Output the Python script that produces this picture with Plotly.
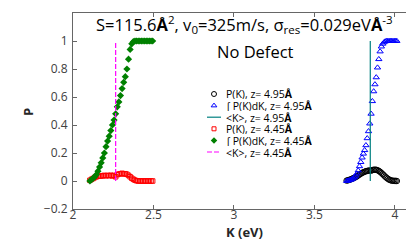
import plotly.graph_objects as go

# ---------------- data ----------------
# z = 4.45 Å (left group)
K_445 = [2.105, 2.115, 2.125, 2.135, 2.145, 2.155, 2.165, 2.175, 2.185, 2.195,
         2.205, 2.215, 2.225, 2.235, 2.245, 2.255, 2.265, 2.275, 2.285, 2.295,
         2.305, 2.315, 2.325, 2.335, 2.345, 2.355, 2.365, 2.375, 2.385, 2.395,
         2.405, 2.415, 2.425, 2.435, 2.445, 2.455, 2.465, 2.475, 2.485, 2.495]
P_445 = [0.005, 0.012, 0.018, 0.025, 0.030, 0.034, 0.036, 0.035, 0.038, 0.040,
         0.037, 0.040, 0.038, 0.041, 0.036, 0.040, 0.030, 0.045, 0.050, 0.052,
         0.055, 0.050, 0.052, 0.048, 0.040, 0.030, 0.020, 0.012, 0.006, 0.002,
         0.0, 0.0, 0.0, 0.0, 0.0, 0.0, 0.0, 0.0, 0.0, 0.0]
C_445 = [0.0, 0.01, 0.02, 0.03, 0.045, 0.07, 0.10, 0.13, 0.165, 0.20,
         0.245, 0.285, 0.32, 0.36, 0.40, 0.435, 0.48, 0.53, 0.565, 0.61,
         0.66, 0.705, 0.745, 0.80, 0.87, 0.94, 0.98, 0.995, 1.0, 1.0,
         1.0, 1.0, 1.0, 1.0, 1.0, 1.0, 1.0, 1.0, 1.0, 1.0]
meanK_445 = 2.265

# z = 4.95 Å (right group)
K_495 = [3.700, 3.708, 3.716, 3.724, 3.732, 3.740, 3.748, 3.756, 3.764, 3.772,
         3.780, 3.788, 3.796, 3.804, 3.812, 3.820, 3.828, 3.836, 3.844, 3.852,
         3.860, 3.868, 3.876, 3.884, 3.892, 3.900, 3.908, 3.916, 3.924, 3.932,
         3.940, 3.948, 3.956, 3.964, 3.972, 3.980, 3.988, 3.996, 4.004, 4.012]
P_495 = [0.003, 0.005, 0.008, 0.011, 0.015, 0.019, 0.023, 0.028, 0.033, 0.040,
         0.046, 0.052, 0.058, 0.062, 0.066, 0.070, 0.072, 0.074, 0.075, 0.074,
         0.078, 0.080, 0.081, 0.080, 0.077, 0.072, 0.066, 0.058, 0.049, 0.040,
         0.031, 0.023, 0.016, 0.010, 0.006, 0.003, 0.002, 0.001, 0.001, 0.000]
C_495 = [0.0, 0.002, 0.005, 0.008, 0.012, 0.018, 0.026, 0.037, 0.053, 0.075,
         0.105, 0.135, 0.167, 0.195, 0.22, 0.255, 0.305, 0.355, 0.41, 0.48,
         0.57, 0.64, 0.69, 0.74, 0.81, 0.87, 0.925, 0.96, 0.98, 0.99,
         0.997, 1.0, 1.0, 1.0, 1.0, 1.0, 1.0, 1.0, 1.0, 1.0]
meanK_495 = 3.847

mean_span = [0, 1]

legend_labels = [
    "P(K), z= 4.95<b>Å</b>",
    "∫ P(K)dK, z= 4.95<b>Å</b>",
    "&lt;K&gt;, z= 4.95<b>Å</b>",
    "P(K), z= 4.45<b>Å</b>",
    "∫ P(K)dK, z= 4.45<b>Å</b>",
    "&lt;K&gt;, z= 4.45<b>Å</b>",
]

x_ticks = [2, 2.5, 3, 3.5, 4]
x_ticklabels = ["2", "2.5", "3", "3.5", "4"]
y_ticks = [-0.2, 0, 0.2, 0.4, 0.6, 0.8, 1.0, 1.2]
y_ticklabels = ["−0.2", "0", "0.2", "0.4", "0.6", "0.8", "1", "1.2"]

# ---------------- styles ----------------
FONT = "Open Sans"
BLACK = "#000000"
BLUE = "#0000ff"
TEAL = "#008080"
RED = "#ff0000"
GREEN = "#008000"
MAGENTA = "#ff00ff"
AXC = "#666666"

W, H = 414, 242
L, R, T, B = 65, 11, 5, 41
PW, PH = W - L - R, H - T - B


def px2paper(px, py):
    return (px - L) / PW, (H - B - py) / PH


fig = go.Figure()

fig.add_trace(go.Scatter(x=K_495, y=P_495, mode="markers",
                         marker=dict(symbol="circle-open", size=5.5, color=BLACK, line=dict(width=1)),
                         showlegend=False))
fig.add_trace(go.Scatter(x=K_495, y=C_495, mode="markers",
                         marker=dict(symbol="triangle-up-open", size=5.5, color=BLUE, line=dict(width=1)),
                         showlegend=False))
fig.add_trace(go.Scatter(x=[meanK_495, meanK_495], y=mean_span, mode="lines",
                         line=dict(color=TEAL, width=1.2), showlegend=False))
fig.add_trace(go.Scatter(x=K_445, y=P_445, mode="markers",
                         marker=dict(symbol="square-open", size=4.5, color=RED, line=dict(width=1)),
                         showlegend=False))
fig.add_trace(go.Scatter(x=K_445, y=C_445, mode="markers",
                         marker=dict(symbol="diamond", size=5.5, color=GREEN),
                         showlegend=False))
fig.add_trace(go.Scatter(x=[meanK_445, meanK_445], y=mean_span, mode="lines",
                         line=dict(color=MAGENTA, width=1.2, dash="5px,2px"), showlegend=False))

# ---------------- manual compact legend ----------------
row_py = [86, 97.6, 109.2, 120.8, 132.4, 144]
key_px = 206
text_px = 216
key_styles = [
    ("marker", dict(symbol="circle-open", size=5, color=BLACK, line=dict(width=1))),
    ("marker", dict(symbol="triangle-up-open", size=5, color=BLUE, line=dict(width=1))),
    ("line", dict(color=TEAL, width=1.2)),
    ("marker", dict(symbol="square-open", size=4, color=RED, line=dict(width=1))),
    ("marker", dict(symbol="diamond", size=5, color=GREEN)),
    ("line", dict(color=MAGENTA, width=1.2, dash="5px,2px")),
]
for lab, py, (kind, st) in zip(legend_labels, row_py, key_styles):
    xk, yk = px2paper(key_px, py)
    if kind == "marker":
        fig.add_trace(go.Scatter(x=[xk], y=[yk], mode="markers", marker=st,
                                 xaxis="x2", yaxis="y2", showlegend=False, hoverinfo="skip"))
    else:
        x0, _ = px2paper(key_px - 7, py)
        x1, _ = px2paper(key_px + 7, py)
        fig.add_shape(type="line", xref="paper", yref="paper", x0=x0, x1=x1, y0=yk, y1=yk,
                      line=st)
    xt, yt = px2paper(text_px, py)
    fig.add_annotation(text=lab, xref="paper", yref="paper", x=xt, y=yt,
                       xanchor="left", yanchor="middle", showarrow=False, height=11,
                       font=dict(family=FONT, size=10.5, color="#000000"))

# title and label inside the axes
tx, ty = px2paper(236, 17)
fig.add_annotation(text="S=115.6<b>Å</b><sup>2</sup>, v<sub>0</sub>=325m/s, σ<sub>res</sub>=0.029eV<b>Å</b><sup>-3</sup>",
                   xref="paper", yref="paper", x=tx, y=ty, xanchor="center", yanchor="middle",
                   showarrow=False, font=dict(family=FONT, size=16.5, color="#000000"))
nx, ny = px2paper(247, 43)
fig.add_annotation(text="No Defect", xref="paper", yref="paper", x=nx, y=ny,
                   xanchor="center", yanchor="middle", showarrow=False,
                   font=dict(family=FONT, size=16.5, color="#000000"))

# axis titles
ax, ay = px2paper(236, 224)
fig.add_annotation(text="<b>K (eV)</b>", xref="paper", yref="paper", x=ax, y=ay,
                   xanchor="center", yanchor="middle", showarrow=False,
                   font=dict(family=FONT, size=13, color="#262626"))
bx, by = px2paper(20, 104)
fig.add_annotation(text="<b>P</b>", xref="paper", yref="paper", x=bx, y=by,
                   xanchor="center", yanchor="middle", showarrow=False, textangle=-90,
                   font=dict(family=FONT, size=13, color="#262626"))

axis_common = dict(showline=True, linecolor=AXC, linewidth=1, mirror="ticks",
                   ticks="inside", ticklen=4, tickcolor=AXC, showgrid=False, zeroline=False,
                   tickfont=dict(family=FONT, size=12, color="#404040"))

fig.update_layout(
    width=W, height=H,
    margin=dict(l=L, r=R, t=T, b=B),
    paper_bgcolor="white", plot_bgcolor="white",
    showlegend=False,
    xaxis=dict(range=[2, 4.1], tickvals=x_ticks, ticktext=x_ticklabels,
               ticklabelstandoff=-5, **axis_common),
    yaxis=dict(range=[-0.2, 1.2], tickvals=y_ticks, ticktext=y_ticklabels,
               ticklabelstandoff=2, **axis_common),
    xaxis2=dict(range=[0, 1], overlaying="x", visible=False, fixedrange=True),
    yaxis2=dict(range=[0, 1], overlaying="y", visible=False, fixedrange=True),
)

fig.write_html("out.html")
